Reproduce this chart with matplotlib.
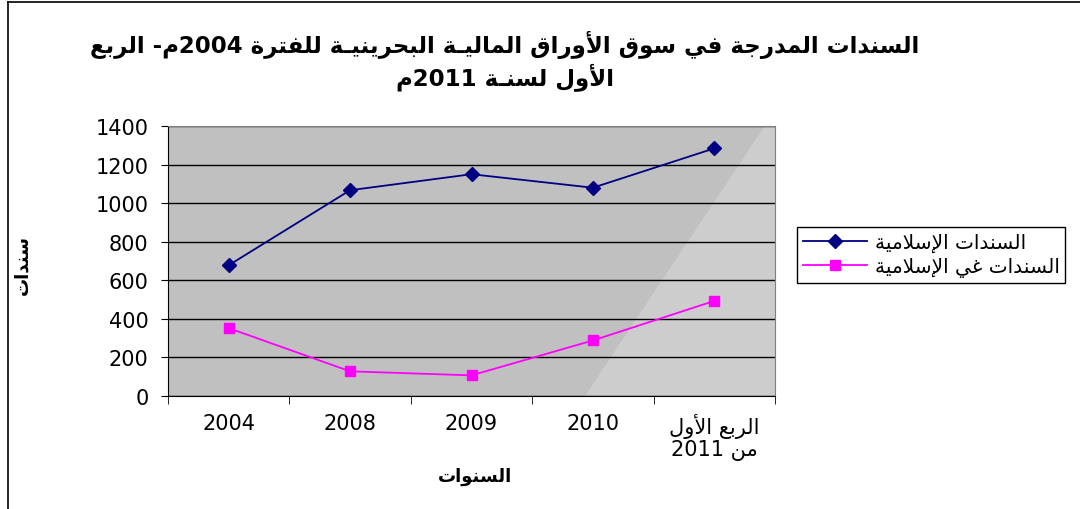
import re
import matplotlib
matplotlib.use("Agg")
import matplotlib.pyplot as plt
from matplotlib.lines import Line2D
from matplotlib.patches import Polygon

# data
categories = ["2004", "2008", "2009", "2010", "الربع الأول\nمن 2011"]
islamic = [678, 1067, 1150, 1080, 1284]
non_islamic = [352, 128, 107, 288, 493]
series_names = ["السندات الإسلامية", "السندات غي الإسلامية"]
y_ticks = [0, 200, 400, 600, 800, 1000, 1200, 1400]

title = "السندات المدرجة في سوق الأوراق الماليـة البحرينيـة للفترة 2004م- الربع\nالأول لسنـة 2011م"
x_title = "السنوات"
y_title = "سندات"


# small arabic shaper (matplotlib does no shaping / bidi by itself)
FOUR = {'ئ': 0xFE89, 'ب': 0xFE8F, 'ت': 0xFE95, 'ث': 0xFE99, 'ج': 0xFE9D, 'ح': 0xFEA1,
        'خ': 0xFEA5, 'س': 0xFEB1, 'ش': 0xFEB5, 'ص': 0xFEB9, 'ض': 0xFEBD, 'ط': 0xFEC1,
        'ظ': 0xFEC5, 'ع': 0xFEC9, 'غ': 0xFECD, 'ف': 0xFED1, 'ق': 0xFED5, 'ك': 0xFED9,
        'ل': 0xFEDD, 'م': 0xFEE1, 'ن': 0xFEE5, 'ه': 0xFEE9, 'ي': 0xFEF1}
TWO = {'آ': 0xFE81, 'أ': 0xFE83, 'ؤ': 0xFE85, 'إ': 0xFE87, 'ا': 0xFE8D, 'ة': 0xFE93,
       'د': 0xFEA9, 'ذ': 0xFEAB, 'ر': 0xFEAD, 'ز': 0xFEAF, 'و': 0xFEED, 'ى': 0xFEEF}
LAM_ALEF = {'آ': 0xFEF5, 'أ': 0xFEF7, 'إ': 0xFEF9, 'ا': 0xFEFB}
TATWEEL = 'ـ'


def kind(u):
    if isinstance(u, tuple):
        return 'R'
    if u in FOUR or u == TATWEEL:
        return 'D'
    if u in TWO:
        return 'R'
    return None


def shape(text):
    units = []
    i = 0
    while i < len(text):
        if text[i] == 'ل' and i + 1 < len(text) and text[i + 1] in LAM_ALEF:
            units.append(('la', LAM_ALEF[text[i + 1]]))
            i += 2
        else:
            units.append(text[i])
            i += 1
    out = []
    for k, u in enumerate(units):
        t = kind(u)
        if t is None or u == TATWEEL:
            out.append(u)
            continue
        pj = k > 0 and kind(units[k - 1]) == 'D'
        nj = t == 'D' and k + 1 < len(units) and kind(units[k + 1]) is not None
        base = u[1] if isinstance(u, tuple) else (FOUR.get(u) or TWO[u])
        if t == 'R':
            out.append(chr(base + (1 if pj else 0)))
        else:
            off = 3 if (pj and nj) else 1 if pj else 2 if nj else 0
            out.append(chr(base + off))
    return ''.join(out)


def ar(text):
    lines = []
    for line in text.split('\n'):
        runs = re.findall(r'[0-9]+|[^0-9]+', shape(line))
        lines.append(''.join(r if r[0].isdigit() else r[::-1] for r in reversed(runs)))
    return '\n'.join(lines)


plt.rcParams['font.family'] = ['DejaVu Sans']

fig = plt.figure(figsize=(10.8, 5.1), dpi=100)
ax = fig.add_axes([168 / 1080, 1 - 397 / 510, 607 / 1080, 270 / 510])

ax.set_facecolor('#C0C0C0')
ax.add_patch(Polygon([(0.687, 0), (0.983, 1), (1, 1), (1, 0)], closed=True,
                     transform=ax.transAxes, facecolor='#CDCDCD', edgecolor='none', zorder=0))

x = list(range(len(categories)))
ax.plot(x, islamic, color='#000080', lw=1.3, marker='D', markersize=7.5,
        label=ar(series_names[0]), zorder=3)
ax.plot(x, non_islamic, color='#FF00FF', lw=1.3, marker='s', markersize=7.5,
        label=ar(series_names[1]), zorder=3)

ax.set_xlim(-0.5, len(categories) - 0.5)
ax.set_ylim(0, 1400)
ax.set_yticks(y_ticks)
ax.yaxis.grid(True, color='black', lw=1)
ax.set_axisbelow(True)

ax.set_xticks(x)
ax.set_xticklabels([ar(c) for c in categories], fontsize=15, linespacing=1.1)
ax.set_xticks([i - 0.5 for i in range(len(categories) + 1)], minor=True)
ax.tick_params(axis='x', which='major', length=0, pad=12)
ax.tick_params(axis='x', which='minor', length=6, direction='out', color='black')
ax.tick_params(axis='y', length=5, direction='out', labelsize=15, pad=9)

for s in ['left', 'bottom']:
    ax.spines[s].set_color('black')
for s in ['top', 'right']:
    ax.spines[s].set_color('#808080')

fig.text(505 / 1080, 1 - 61 / 510, ar(title), ha='center', va='center',
         fontsize=16.5, fontweight='bold', multialignment='center', linespacing=1.2)
fig.text(475 / 1080, 1 - 477 / 510, ar(x_title), ha='center', va='center',
         fontsize=13, fontweight='bold')
fig.text(22 / 1080, 1 - 265 / 510, ar(y_title), ha='center', va='center',
         fontsize=13, fontweight='bold', rotation=90)

leg = ax.legend(loc='upper left', bbox_to_anchor=(797 / 1080, 1 - 228 / 510),
                bbox_transform=fig.transFigure, borderaxespad=0, fontsize=14.5,
                frameon=True, fancybox=False, framealpha=1, edgecolor='black',
                handlelength=3.2, handletextpad=0.35, labelspacing=0.25, borderpad=0.3)
leg.get_frame().set_linewidth(1)

# outer chart border (left and top only visible)
fig.add_artist(Line2D([8 / 1080, 8 / 1080], [0, 1 - 3 / 510], color='black', lw=1.2,
                      transform=fig.transFigure))
fig.add_artist(Line2D([8 / 1080, 1], [1 - 3 / 510, 1 - 3 / 510], color='black', lw=1.2,
                      transform=fig.transFigure))

fig.savefig('out.png', dpi=100)
